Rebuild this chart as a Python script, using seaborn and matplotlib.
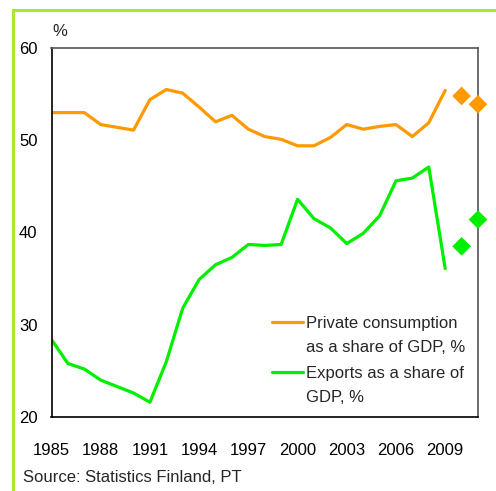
import matplotlib
matplotlib.use("Agg")
import matplotlib.pyplot as plt
import matplotlib.font_manager as fm
import seaborn as sns
import pandas as pd
from matplotlib.patches import Rectangle

years = list(range(1985, 2010))
consumption = [53.0, 53.0, 53.0, 51.7, 51.4, 51.1, 54.4, 55.5, 55.1, 53.6, 52.0, 52.7,
               51.2, 50.4, 50.1, 49.4, 49.4, 50.3, 51.7, 51.2, 51.5, 51.7, 50.4, 51.9, 55.4]
exports = [28.4, 25.8, 25.2, 24.0, 23.3, 22.6, 21.6, 26.0, 31.8, 34.9, 36.5, 37.3,
           38.7, 38.6, 38.7, 43.6, 41.5, 40.5, 38.8, 39.9, 41.8, 45.6, 45.9, 47.1, 36.1]
forecast_years = [2010, 2011]
forecast_consumption = [54.8, 53.9]
forecast_exports = [38.5, 41.4]
xticks = [1985, 1988, 1991, 1994, 1997, 2000, 2003, 2006, 2009]
yticks = [20, 30, 40, 50, 60]
legend_labels = ["Private consumption\nas a share of GDP, %", "Exports as a share of\nGDP, %"]
source_text = "Source: Statistics Finland, PT"

sns.set_style("white")
names = {f.name for f in fm.fontManager.ttflist}
fam = "Liberation Sans Narrow" if "Liberation Sans Narrow" in names else "Liberation Sans"
plt.rcParams["font.family"] = [fam, "DejaVu Sans"]

ORANGE = "#ff9900"
GREEN = "#00ee00"

fig = plt.figure(figsize=(4.96, 4.91), dpi=100)
fig.patches.append(Rectangle((13 / 496, -0.1), 2, 1.1 - 10 / 491, transform=fig.transFigure,
                             fill=False, edgecolor="#a6e832", linewidth=2.2, zorder=0))
ax = fig.add_axes([51.5 / 496, 1 - 417 / 491, (478 - 51.5) / 496, (417 - 48) / 491])

df = pd.DataFrame({"year": years, "cons": consumption, "exp": exports})
fdf = pd.DataFrame({"year": forecast_years, "cons": forecast_consumption, "exp": forecast_exports})

sns.lineplot(data=df, x="year", y="cons", ax=ax, color=ORANGE, linewidth=2.3)
sns.lineplot(data=df, x="year", y="exp", ax=ax, color=GREEN, linewidth=2.3)
sns.scatterplot(data=fdf, x="year", y="cons", ax=ax, color=ORANGE, marker="D", s=90,
                edgecolor="none", clip_on=False, zorder=5)
sns.scatterplot(data=fdf, x="year", y="exp", ax=ax, color=GREEN, marker="D", s=90,
                edgecolor="none", clip_on=False, zorder=5)

ax.set_xlim(1985, 2011)
ax.set_ylim(20, 60)
ax.set_xticks(xticks)
ax.set_yticks(yticks)
ax.set_xlabel("")
ax.set_ylabel("")
ax.tick_params(axis="both", direction="out", length=5, width=1, colors="black",
               labelsize=12, pad=5)
ax.tick_params(axis="x", pad=14)
for s in ["left", "bottom"]:
    ax.spines[s].set_color("black")
    ax.spines[s].set_linewidth(1.2)
for s in ["top", "right"]:
    ax.spines[s].set_color("#555555")
    ax.spines[s].set_linewidth(1.2)

# manual legend (handle aligned with first line of each label)
W, H = 496, 491
def fx(px):
    return px / W
def fy(py):
    return 1 - py / H
for (label, color, ypx) in [(legend_labels[0], ORANGE, 322), (legend_labels[1], GREEN, 372)]:
    fig.add_artist(matplotlib.lines.Line2D([fx(272), fx(303)], [fy(ypx), fy(ypx)],
                                           color=color, linewidth=2.3, transform=fig.transFigure))
    fig.text(fx(306), fy(ypx - 6), label, fontsize=12, ha="left", va="top",
             linespacing=1.76)

fig.text(60 / 496, 1 - 32 / 491, "%", fontsize=12, ha="center", va="center")
fig.text(23 / 496, 1 - 478 / 491, source_text, fontsize=12, ha="left", va="center")

fig.savefig("out.png", dpi=100)
